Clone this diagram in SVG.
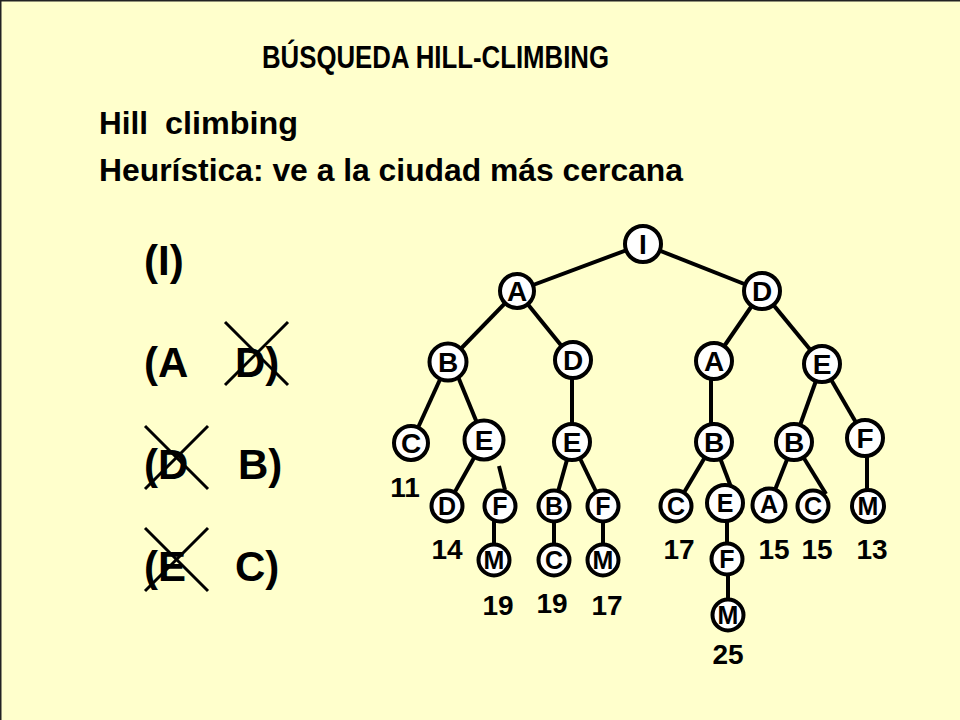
<svg xmlns="http://www.w3.org/2000/svg" width="960" height="720" viewBox="0 0 960 720">
<style>
  text { font-family: "Liberation Sans", Arial, sans-serif; font-weight: bold; fill: #000; }
  .title { font-size: 31px; }
  .sub { font-size: 31px; }
  .big { font-size: 42px; }
  .lbl { font-size: 28px; text-anchor: middle; }
  .lbs { font-size: 25px; text-anchor: middle; }
  .num { font-size: 28px; text-anchor: middle; }
  .n circle { fill: #fff; stroke: #000; stroke-width: 4; }
  .edges line { stroke: #000; stroke-width: 4; stroke-linecap: butt; }
  .cross line { stroke: #000; stroke-width: 3; }
</style>
<rect x="0" y="0" width="960" height="720" fill="#FFFFCC"/>
<path d="M0.75 720 V0.75 H960" fill="none" stroke="#222" stroke-width="1.5"/>

<text class="title" x="262" y="68" textLength="347" lengthAdjust="spacingAndGlyphs">BÚSQUEDA HILL-CLIMBING</text>
<text class="sub" x="99" y="134" textLength="49" lengthAdjust="spacingAndGlyphs">Hill</text>
<text class="sub" x="165" y="134" textLength="133" lengthAdjust="spacingAndGlyphs">climbing</text>
<text class="sub" x="99" y="181" textLength="584" lengthAdjust="spacingAndGlyphs">Heurística: ve a la ciudad más cercana</text>

<g id="list">
  <text class="big" x="144" y="275">(I)</text>
  <text class="big" x="144" y="377">(A</text>
  <text class="big" x="235" y="377">D)</text>
  <text class="big" x="144" y="479">(D</text>
  <text class="big" x="238" y="479">B)</text>
  <text class="big" x="144" y="581">(E</text>
  <text class="big" x="235" y="581">C)</text>
</g>
<g id="crosses" class="cross">
  <line x1="225" y1="322" x2="288" y2="385"/>
  <line x1="225" y1="385" x2="288" y2="322"/>
  <line x1="145" y1="426" x2="208" y2="489"/>
  <line x1="145" y1="489" x2="208" y2="426"/>
  <line x1="145" y1="528" x2="208" y2="591"/>
  <line x1="145" y1="591" x2="208" y2="528"/>
</g>

<g id="connectors" class="edges">
  <line x1="643" y1="244" x2="517" y2="291"/>
  <line x1="643" y1="244" x2="762" y2="291"/>
  <line x1="517" y1="291" x2="448" y2="362"/>
  <line x1="517" y1="291" x2="573" y2="360"/>
  <line x1="762" y1="291" x2="714" y2="361"/>
  <line x1="762" y1="291" x2="822" y2="364"/>
  <line x1="448" y1="362" x2="411" y2="443"/>
  <line x1="452" y1="362" x2="484" y2="440"/>
  <line x1="572" y1="360" x2="572" y2="442"/>
  <line x1="711" y1="361" x2="711" y2="442"/>
  <line x1="822" y1="364" x2="794" y2="442"/>
  <line x1="822" y1="364" x2="865" y2="438"/>
  <line x1="484" y1="440" x2="447" y2="506"/>
  <line x1="499" y1="466" x2="505" y2="490"/>
  <line x1="572" y1="442" x2="554" y2="506"/>
  <line x1="572" y1="442" x2="603" y2="506"/>
  <line x1="714" y1="442" x2="676" y2="506"/>
  <line x1="714" y1="442" x2="737" y2="503"/>
  <line x1="794" y1="442" x2="769" y2="505"/>
  <line x1="794" y1="442" x2="826" y2="494"/>
  <line x1="867" y1="438" x2="867" y2="506"/>
  <line x1="494" y1="506" x2="494" y2="560"/>
  <line x1="554" y1="506" x2="554" y2="560"/>
  <line x1="603" y1="506" x2="603" y2="560"/>
  <line x1="727" y1="503" x2="727" y2="559"/>
  <line x1="728" y1="559" x2="728" y2="615"/>
</g>

<g id="n-I" class="n"><circle cx="643" cy="244" r="18"/><text class="lbl" x="643" y="254">I</text></g>
<g id="n-A1" class="n"><circle cx="517" cy="291" r="17"/><text class="lbl" x="517" y="301">A</text></g>
<g id="n-D1" class="n"><circle cx="762" cy="291" r="18"/><text class="lbl" x="762" y="301">D</text></g>
<g id="n-B1" class="n"><circle cx="448" cy="362" r="18.5"/><text class="lbl" x="448" y="372">B</text></g>
<g id="n-D2" class="n"><circle cx="573" cy="360" r="18"/><text class="lbl" x="573" y="370">D</text></g>
<g id="n-A2" class="n"><circle cx="714" cy="361" r="18"/><text class="lbl" x="714" y="371">A</text></g>
<g id="n-E1" class="n"><circle cx="822" cy="364" r="18"/><text class="lbl" x="822" y="374">E</text></g>
<g id="n-C1" class="n"><circle cx="411" cy="443" r="17"/><text class="lbl" x="411" y="453">C</text></g>
<g id="n-E2" class="n"><circle cx="484" cy="440" r="19.5"/><text class="lbl" x="484" y="450">E</text></g>
<g id="n-E3" class="n"><circle cx="572" cy="442" r="18"/><text class="lbl" x="572" y="452">E</text></g>
<g id="n-B2" class="n"><circle cx="714" cy="442" r="18"/><text class="lbl" x="714" y="452">B</text></g>
<g id="n-B3" class="n"><circle cx="794" cy="442" r="18"/><text class="lbl" x="794" y="452">B</text></g>
<g id="n-F1" class="n"><circle cx="865" cy="438" r="18"/><text class="lbl" x="865" y="448">F</text></g>
<g id="n-D3" class="n"><circle cx="447" cy="506" r="15.5"/><text class="lbs" x="447" y="515">D</text></g>
<g id="n-F2" class="n"><circle cx="500" cy="506" r="15.5"/><text class="lbs" x="500" y="515">F</text></g>
<g id="n-B4" class="n"><circle cx="554" cy="506" r="15.5"/><text class="lbs" x="554" y="515">B</text></g>
<g id="n-F3" class="n"><circle cx="603" cy="506" r="15.5"/><text class="lbs" x="603" y="515">F</text></g>
<g id="n-C2" class="n"><circle cx="676" cy="506" r="15.5"/><text class="lbs" x="676" y="515">C</text></g>
<g id="n-E4" class="n"><circle cx="725" cy="503" r="18"/><text class="lbs" x="725" y="512">E</text></g>
<g id="n-A3" class="n"><circle cx="769" cy="505" r="16.5"/><text class="lbs" x="769" y="513">A</text></g>
<g id="n-C3" class="n"><circle cx="813" cy="506" r="15.5"/><text class="lbs" x="813" y="515">C</text></g>
<g id="n-M1" class="n"><circle cx="868" cy="506" r="16"/><text class="lbs" x="868" y="515">M</text></g>
<g id="n-M2" class="n"><circle cx="494" cy="560" r="15.5"/><text class="lbs" x="494" y="569">M</text></g>
<g id="n-C4" class="n"><circle cx="554" cy="560" r="15.5"/><text class="lbs" x="554" y="569">C</text></g>
<g id="n-M3" class="n"><circle cx="603" cy="560" r="15.5"/><text class="lbs" x="603" y="569">M</text></g>
<g id="n-F4" class="n"><circle cx="727" cy="559" r="15.5"/><text class="lbs" x="727" y="568">F</text></g>
<g id="n-M4" class="n"><circle cx="728" cy="615" r="15.5"/><text class="lbs" x="728" y="624">M</text></g>

<g id="costs">
  <text class="num" x="405" y="497">11</text>
  <text class="num" x="447" y="559">14</text>
  <text class="num" x="498" y="615">19</text>
  <text class="num" x="552" y="613">19</text>
  <text class="num" x="607" y="615">17</text>
  <text class="num" x="679" y="559">17</text>
  <text class="num" x="774" y="559">15</text>
  <text class="num" x="817" y="559">15</text>
  <text class="num" x="872" y="559">13</text>
  <text class="num" x="728" y="664">25</text>
</g>
</svg>
